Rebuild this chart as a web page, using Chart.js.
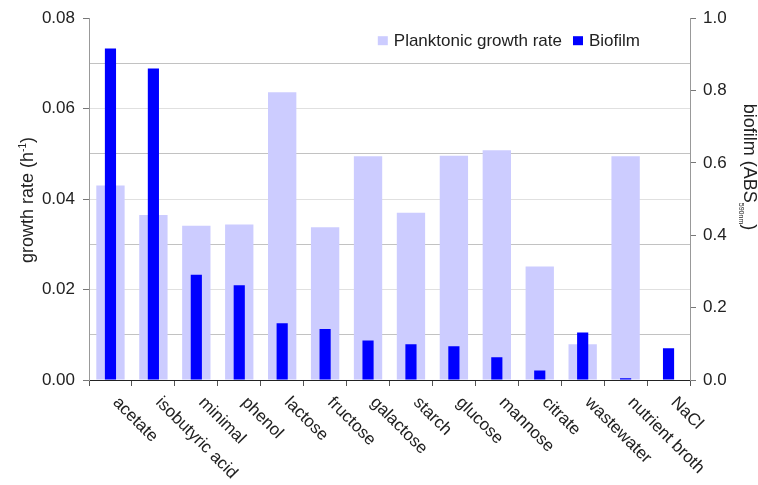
<!DOCTYPE html>
<html>
<head>
<meta charset="utf-8">
<script src="https://cdn.jsdelivr.net/npm/chart.js@4.4.1/dist/chart.umd.min.js"></script>
<style>
  html, body { margin: 0; padding: 0; background: #ffffff; }
  #wrap { width: 758px; height: 485px; }
</style>
</head>
<body>
<div id="wrap"><canvas id="growthChart" width="758" height="485"></canvas></div>
<script>
const categories = ['acetate', 'isobutyric acid', 'minimal', 'phenol', 'lactose', 'fructose', 'galactose',
  'starch', 'glucose', 'mannose', 'citrate', 'wastewater', 'nutrient broth', 'NaCl'];

// growth rate in h^-1 (left axis)
const planktonicRate = [0.0430, 0.0365, 0.0341, 0.0344, 0.0636, 0.0338, 0.0495,
  0.0370, 0.0496, 0.0508, 0.0251, 0.0079, 0.0495, 0];

// biofilm absorbance at 590 nm (right axis)
const biofilmAbs = [0.916, 0.861, 0.291, 0.262, 0.157, 0.141, 0.109,
  0.099, 0.093, 0.063, 0.026, 0.131, 0.005, 0.088];

const rateTicks = [0, 0.02, 0.04, 0.06, 0.08];
const absTicks = [0, 0.2, 0.4, 0.6, 0.8, 1.0];

const FONT = '"Liberation Sans", Arial, sans-serif';
const TEXT = '#222222';

// draws a run of text pieces (with sub/superscripts) rotated around a centre point
function drawRich(ctx, parts, cx, cy, angle) {
  ctx.save();
  ctx.translate(cx, cy);
  ctx.rotate(angle);
  ctx.fillStyle = TEXT;
  ctx.textBaseline = 'alphabetic';
  ctx.textAlign = 'left';
  let total = 0;
  parts.forEach(p => { ctx.font = p.size + 'px ' + FONT; p.w = ctx.measureText(p.t).width; total += p.w; });
  let x = -total / 2;
  parts.forEach(p => {
    ctx.font = p.size + 'px ' + FONT;
    ctx.fillText(p.t, x, 6 + (p.dy || 0));
    x += p.w;
  });
  ctx.restore();
}

const extras = {
  id: 'extras',
  afterDraw(chart) {
    const ctx = chart.ctx;
    const area = chart.chartArea;
    const xs = chart.scales.x;

    // slanted category labels
    ctx.save();
    ctx.font = '17px ' + FONT;
    ctx.fillStyle = TEXT;
    ctx.textAlign = 'left';
    ctx.textBaseline = 'middle';
    categories.forEach((c, i) => {
      const px = xs.getPixelForValue(i);
      ctx.save();
      ctx.translate(px + 5, area.bottom + 20);
      ctx.rotate(Math.PI / 4);
      ctx.fillText(c, 0, 0);
      ctx.restore();
    });
    ctx.restore();

    // axis titles
    drawRich(ctx, [
      { t: 'growth rate (h', size: 18 },
      { t: '-1', size: 10, dy: -7 },
      { t: ')', size: 18 }
    ], 27, 200, -Math.PI / 2);
    drawRich(ctx, [
      { t: 'biofilm (ABS', size: 18 },
      { t: '590nm', size: 7, dy: 5 },
      { t: ')', size: 18 }
    ], 750, 167, Math.PI / 2);

    // legend inside the plot, top right
    ctx.save();
    ctx.font = '17px ' + FONT;
    ctx.textBaseline = 'middle';
    const items = chart.data.datasets.map(d => ({ label: d.label, color: d.backgroundColor }));
    const box = 10, gap = 6, sep = 11;
    let width = 0;
    items.forEach((it, i) => { it.w = ctx.measureText(it.label).width; width += box + gap + it.w + (i ? sep : 0); });
    let lx = area.right - 50 - width;
    const ly = area.top + 23;
    items.forEach((it, i) => {
      if (i) lx += sep;
      ctx.fillStyle = it.color;
      ctx.fillRect(lx, ly - 5, box, 9);
      lx += box + gap;
      ctx.fillStyle = TEXT;
      ctx.fillText(it.label, lx, ly);
      lx += it.w;
    });
    ctx.restore();
  }
};

new Chart(document.getElementById('growthChart'), {
  type: 'bar',
  data: {
    labels: categories,
    datasets: [{
      label: 'Planktonic growth rate',
      data: planktonicRate,
      yAxisID: 'y',
      backgroundColor: '#ccccff',
      grouped: false,
      categoryPercentage: 1,
      barPercentage: 0.66,
      order: 1
    }, {
      label: 'Biofilm',
      data: biofilmAbs,
      yAxisID: 'y1',
      backgroundColor: '#0000ff',
      grouped: false,
      categoryPercentage: 1,
      barPercentage: 0.26,
      order: 0
    }]
  },
  options: {
    responsive: false,
    animation: false,
    layout: { padding: { top: 18 } },
    plugins: {
      legend: { display: false },
      tooltip: { enabled: false }
    },
    scales: {
      x: {
        ticks: { display: false },
        grid: { drawOnChartArea: false, offset: true, tickLength: 6, color: '#555' },
        border: { color: '#222', width: 1 },
        afterFit: s => { s.height = 105; }
      },
      y: {
        position: 'left',
        min: 0,
        max: 0.08,
        ticks: {
          stepSize: 0.01,
          padding: 8,
          color: TEXT,
          font: { size: 17, family: FONT },
          callback: v => rateTicks.some(t => Math.abs(t - v) < 1e-6) ? v.toFixed(2) : ''
        },
        grid: {
          tickLength: 6,
          color: c => {
            const k = Math.round(c.tick.value * 100);
            if (k === 0 || k === 8) return 'rgba(0,0,0,0)';
            return k % 2 ? '#c2c2c2' : '#e0e0e0';
          },
          tickColor: c => Math.round(c.tick.value * 100) % 2 ? 'rgba(0,0,0,0)' : '#777'
        },
        border: { color: '#999' },
        afterFit: s => { s.width = 89; }
      },
      y1: {
        position: 'right',
        min: 0,
        max: 1,
        ticks: {
          stepSize: 0.2,
          padding: 7,
          color: TEXT,
          font: { size: 17, family: FONT },
          callback: v => absTicks.some(t => Math.abs(t - v) < 1e-6) ? v.toFixed(1) : ''
        },
        grid: { drawOnChartArea: false, tickLength: 6, color: '#777' },
        border: { color: '#999' },
        afterFit: s => { s.width = 68; }
      }
    }
  },
  plugins: [extras]
});
</script>
</body>
</html>
